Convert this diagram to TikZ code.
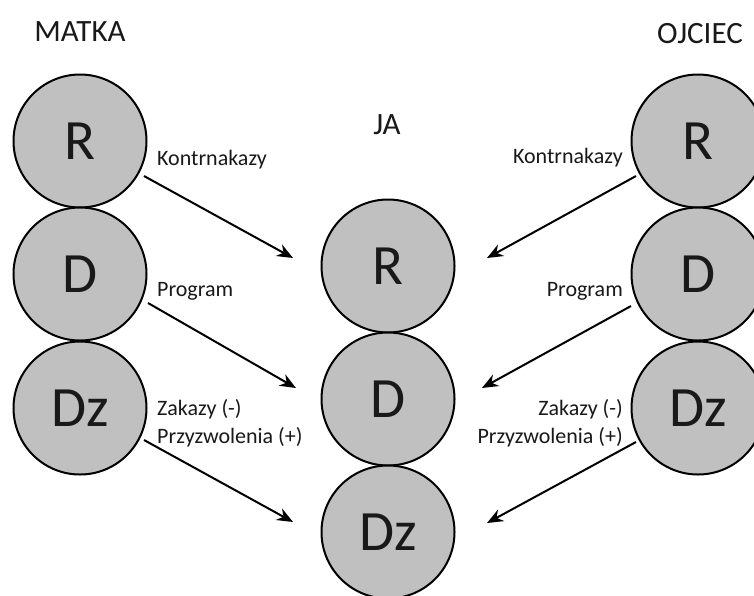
\documentclass[tikz,border=0pt]{standalone}
\usepackage{fontspec}
\setmainfont{Carlito}
\usetikzlibrary{arrows.meta}
\definecolor{ballfill}{RGB}{192,192,192}
\definecolor{ink}{RGB}{25,25,25}
\begin{document}
\begin{tikzpicture}[x=1pt,y=-1pt,
  ball/.style={circle,draw=black,line width=2pt,fill=ballfill,
    minimum size=133pt,inner sep=0pt,font=\fontsize{57}{60}\selectfont,text=ink},
  head/.style={font=\fontsize{31}{34}\selectfont,text=ink},
  lbl/.style={font=\fontsize{22}{28}\selectfont,text=ink,inner sep=0pt},
  link/.style={-{Stealth[length=16pt,width=13pt]},line width=2pt,black}]
\clip (0,0) rectangle (754,595);
\fill[white] (0,0) rectangle (754,595);

% column headings
\node[head] (matka) at (80,32) {MATKA};
\node[head] (ojciec) at (700,34) {OJCIEC};
\node[head] (ja) at (387,125) {JA};

% mother's states
\node[ball] (mR)  at (80,141) {R};
\node[ball] (mD)  at (80,274) {D};
\node[ball] (mDz) at (80,408) {Dz};

% father's states
\node[ball] (oR)  at (698,141) {R};
\node[ball] (oD)  at (698,274) {D};
\node[ball] (oDz) at (698,408) {Dz};

% child's states
\node[ball] (jR)  at (388,266) {R};
\node[ball] (jD)  at (388,399) {D};
\node[ball] (jDz) at (388,532) {Dz};

% free ends of the messages
\coordinate (mRs)  at (144,176);  \coordinate (mRe)  at (293,258);
\coordinate (mDs)  at (148,303);  \coordinate (mDe)  at (296,388);
\coordinate (mDzs) at (144,440);  \coordinate (mDze) at (293,522);
\coordinate (oRs)  at (636,176);  \coordinate (oRe)  at (487,258);
\coordinate (oDs)  at (631,306);  \coordinate (oDe)  at (482,388);
\coordinate (oDzs) at (636,442);  \coordinate (oDze) at (487,523);

\draw[link] (mRs) -- (mRe);
\draw[link] (mDs) -- (mDe);
\draw[link] (mDzs) -- (mDze);
\draw[link] (oRs) -- (oRe);
\draw[link] (oDs) -- (oDe);
\draw[link] (oDzs) -- (oDze);

% message labels
\node[lbl,anchor=west] (lK) at (157,160) {Kontrnakazy};
\node[lbl,anchor=west] (lP) at (157,291) {Program};
\node[lbl,anchor=west] (lZ) at (157,409) {Zakazy (-)};
\node[lbl,anchor=west] (lPr) at (157,437) {Przyzwolenia (+)};
\node[lbl,anchor=east] (rK) at (623,158) {Kontrnakazy};
\node[lbl,anchor=east] (rP) at (623,291) {Program};
\node[lbl,anchor=east] (rZ) at (623,409) {Zakazy (-)};
\node[lbl,anchor=east] (rPr) at (623,437) {Przyzwolenia (+)};
\end{tikzpicture}
\end{document}
